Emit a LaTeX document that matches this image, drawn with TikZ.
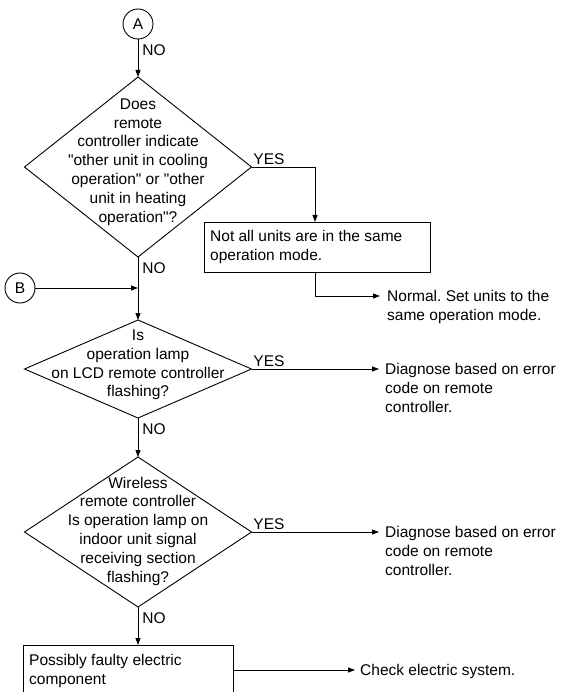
\documentclass[tikz,border=0pt]{standalone}
\usepackage{fontspec}
\setmainfont{Liberation Sans}[Ligatures=TeXOff]
\usetikzlibrary{shapes.geometric,arrows.meta}
\frenchspacing
\begin{document}
\begin{tikzpicture}[x=1pt,y=-1pt,
  every node/.style={font=\fontsize{15.5}{18.8}\selectfont},
  line/.style={draw=black, line width=0.9pt},
  arr/.style={line, -{Triangle[length=7pt,width=5pt]}},
  decision/.style={diamond, draw, line width=0.9pt, inner sep=0pt, outer sep=0pt},
  box/.style={rectangle, draw, line width=0.9pt, inner sep=0pt, outer sep=0pt},
  conn/.style={circle, draw, line width=0.9pt, minimum size=30pt, inner sep=0pt, outer sep=0pt},
  txt/.style={inner sep=0pt, align=left, anchor=north west},
  ctxt/.style={inner sep=0pt, align=center},
  nolabel/.style={anchor=north west, inner sep=0pt, xshift=4pt, yshift=-5pt},
  yeslabel/.style={anchor=south west, inner sep=1.5pt}]

\useasboundingbox (0,0) rectangle (564,692);
\clip (0,0) rectangle (564,692);

% connectors A and B
\node[conn] (A) at (138,24) {A};
\node[conn] (B) at (20,288) {B};

% first decision
\node[decision, minimum width=227pt, minimum height=180pt] (d1) at (138,167) {};
\node[ctxt] (q1) at (138,162) {Does\\remote\\controller indicate\\"other unit in cooling\\operation" or "other\\unit in heating\\operation"?};

% different operation modes
\node[box, minimum width=226pt, minimum height=50pt] (r1) at (317,247) {};
\node[txt] (t1) at (210,230.5) {Not all units are in the same\\operation mode.};
\coordinate (e1) at (380,296);
\node[txt] (t2) at (387,290.5) {Normal. Set units to the\\same operation mode.};

% second decision
\coordinate (j) at (138,288);
\node[decision, minimum width=227pt, minimum height=98pt] (d2) at (138,369) {};
\node[ctxt] (q2) at (138,365) {Is\\operation lamp\\on LCD remote controller\\flashing?};
\coordinate (e2) at (379,369);
\node[txt] (t3) at (385,363.5) {Diagnose based on error\\code on remote\\controller.};

% third decision
\node[decision, minimum width=227pt, minimum height=150pt] (d3) at (138,532) {};
\node[ctxt] (q3) at (138,531) {Wireless\\remote controller\\Is operation lamp on\\indoor unit signal\\receiving section\\flashing?};
\coordinate (e3) at (379,532);
\node[txt] (t4) at (385,526.5) {Diagnose based on error\\code on remote\\controller.};

% electric component
\node[box, minimum width=210pt, minimum height=50pt] (r2) at (128,670) {};
\node[txt] (t5) at (29,654.5) {Possibly faulty electric\\component};
\coordinate (e4) at (355,670);
\node[inner sep=0pt, anchor=base west] (t6) at (360,675.5) {Check electric system.};

% flow
\draw[arr] (A) -- node[pos=0, nolabel] {NO} (d1.north);
\draw[arr] (d1.east) -- node[pos=0, yeslabel] {YES} (d1.east -| 315,0) -- ([xshift=-2pt]r1.north);
\draw[arr] ([xshift=-2pt]r1.south) |- (e1);
\draw[arr] (d1.south) -- node[pos=0, nolabel] {NO} (d2.north);
\draw[arr] (B) -- (j);
\draw[arr] (d2.east) -- node[pos=0, yeslabel] {YES} (e2);
\draw[arr] (d2.south) -- node[pos=0, nolabel] {NO} (d3.north);
\draw[arr] (d3.east) -- node[pos=0, yeslabel] {YES} (e3);
\draw[arr] (d3.south) -- node[pos=0, nolabel] {NO} ([xshift=10pt]r2.north);
\draw[arr] (r2.east) -- (e4);
\end{tikzpicture}
\end{document}
